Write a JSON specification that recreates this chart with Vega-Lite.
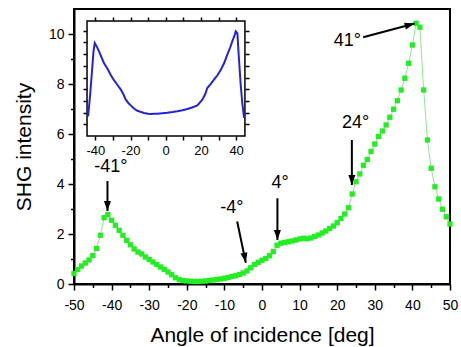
{
  "$schema": "https://vega.github.io/schema/vega-lite/v6.json",
  "width": 376,
  "height": 275,
  "autosize": {"type": "none"},
  "padding": {"left": 74, "top": 9, "right": 11, "bottom": 63},
  "background": "white",
  "config": {
    "view": {"stroke": "black", "strokeWidth": 2},
    "font": "Liberation Sans",
    "axis": {"labelFont": "Liberation Sans", "titleFont": "Liberation Sans", "labelColor": "black", "titleColor": "black", "domainColor": "black", "tickColor": "black", "grid": false, "titleFontWeight": "normal", "labelOverlap": false, "labelBound": false}
  },
  "datasets": {
    "main": [
      {"angle": -50, "shg": 0.42}, {"angle": -49, "shg": 0.58}, {"angle": -48, "shg": 0.72}, {"angle": -47, "shg": 0.84},
      {"angle": -46, "shg": 0.96}, {"angle": -45, "shg": 1.14}, {"angle": -44, "shg": 1.42}, {"angle": -43, "shg": 1.95},
      {"angle": -42, "shg": 2.65}, {"angle": -41, "shg": 2.78}, {"angle": -40, "shg": 2.55}, {"angle": -39, "shg": 2.35},
      {"angle": -38, "shg": 2.15}, {"angle": -37, "shg": 1.95}, {"angle": -36, "shg": 1.75}, {"angle": -35, "shg": 1.57},
      {"angle": -34, "shg": 1.4}, {"angle": -33, "shg": 1.28}, {"angle": -32, "shg": 1.2}, {"angle": -31, "shg": 1.08},
      {"angle": -30, "shg": 0.98}, {"angle": -29, "shg": 0.88}, {"angle": -28, "shg": 0.78}, {"angle": -27, "shg": 0.68},
      {"angle": -26, "shg": 0.58}, {"angle": -25, "shg": 0.48}, {"angle": -24, "shg": 0.37}, {"angle": -23, "shg": 0.25},
      {"angle": -22, "shg": 0.17}, {"angle": -21, "shg": 0.14}, {"angle": -20, "shg": 0.12}, {"angle": -19, "shg": 0.11},
      {"angle": -18, "shg": 0.1}, {"angle": -17, "shg": 0.1}, {"angle": -16, "shg": 0.11}, {"angle": -15, "shg": 0.12},
      {"angle": -14, "shg": 0.14}, {"angle": -13, "shg": 0.16}, {"angle": -12, "shg": 0.18}, {"angle": -11, "shg": 0.2},
      {"angle": -10, "shg": 0.23}, {"angle": -9, "shg": 0.26}, {"angle": -8, "shg": 0.3}, {"angle": -7, "shg": 0.33},
      {"angle": -6, "shg": 0.38}, {"angle": -5, "shg": 0.44}, {"angle": -4, "shg": 0.52}, {"angle": -3, "shg": 0.65},
      {"angle": -2, "shg": 0.78}, {"angle": -1, "shg": 0.87}, {"angle": 0, "shg": 0.95}, {"angle": 1, "shg": 1.02},
      {"angle": 2, "shg": 1.13}, {"angle": 3, "shg": 1.3}, {"angle": 4, "shg": 1.55}, {"angle": 5, "shg": 1.63},
      {"angle": 6, "shg": 1.66}, {"angle": 7, "shg": 1.69}, {"angle": 8, "shg": 1.72}, {"angle": 9, "shg": 1.76},
      {"angle": 10, "shg": 1.8}, {"angle": 11, "shg": 1.83}, {"angle": 12, "shg": 1.81}, {"angle": 13, "shg": 1.84},
      {"angle": 14, "shg": 1.9}, {"angle": 15, "shg": 1.96}, {"angle": 16, "shg": 2.04}, {"angle": 17, "shg": 2.12},
      {"angle": 18, "shg": 2.22}, {"angle": 19, "shg": 2.32}, {"angle": 20, "shg": 2.45}, {"angle": 21, "shg": 2.62},
      {"angle": 22, "shg": 2.8}, {"angle": 23, "shg": 3.05}, {"angle": 24, "shg": 3.6}, {"angle": 25, "shg": 4.09},
      {"angle": 26, "shg": 4.4}, {"angle": 27, "shg": 4.75}, {"angle": 28, "shg": 4.98}, {"angle": 29, "shg": 5.3},
      {"angle": 30, "shg": 5.6}, {"angle": 31, "shg": 5.9}, {"angle": 32, "shg": 6.12}, {"angle": 33, "shg": 6.36},
      {"angle": 34, "shg": 6.67}, {"angle": 35, "shg": 6.99}, {"angle": 36, "shg": 7.33}, {"angle": 37, "shg": 7.76},
      {"angle": 38, "shg": 8.23}, {"angle": 39, "shg": 8.83}, {"angle": 40, "shg": 9.56}, {"angle": 41, "shg": 10.43},
      {"angle": 42, "shg": 10.27}, {"angle": 43, "shg": 7.76}, {"angle": 44, "shg": 5.76}, {"angle": 45, "shg": 4.63},
      {"angle": 46, "shg": 3.89}, {"angle": 47, "shg": 3.4}, {"angle": 48, "shg": 2.99}, {"angle": 49, "shg": 2.69},
      {"angle": 50, "shg": 2.4}
    ],
    "inset": [
      {"ia": -44.1, "iv": 1.68}, {"ia": -43, "iv": 3.4}, {"ia": -42, "iv": 5.3}, {"ia": -41, "iv": 7.26},
      {"ia": -40.3, "iv": 7.95}, {"ia": -39, "iv": 7.6}, {"ia": -37.9, "iv": 7.24}, {"ia": -35.1, "iv": 6.24},
      {"ia": -33, "iv": 5.73}, {"ia": -31.3, "iv": 5.24}, {"ia": -29.5, "iv": 4.79}, {"ia": -27.5, "iv": 4.38},
      {"ia": -25.5, "iv": 3.97}, {"ia": -24.1, "iv": 3.59}, {"ia": -22.7, "iv": 3.1}, {"ia": -21, "iv": 2.78},
      {"ia": -19.9, "iv": 2.62}, {"ia": -18, "iv": 2.35}, {"ia": -16.1, "iv": 2.16}, {"ia": -14, "iv": 2.05},
      {"ia": -12.3, "iv": 1.97}, {"ia": -10, "iv": 1.91}, {"ia": -8.5, "iv": 1.88}, {"ia": -6.5, "iv": 1.9},
      {"ia": -4.8, "iv": 1.91}, {"ia": -2, "iv": 1.95}, {"ia": 0.9, "iv": 1.99}, {"ia": 4, "iv": 2.05},
      {"ia": 6.6, "iv": 2.11}, {"ia": 9.5, "iv": 2.2}, {"ia": 12.3, "iv": 2.31}, {"ia": 15, "iv": 2.44},
      {"ia": 18, "iv": 2.62}, {"ia": 20.8, "iv": 3.1}, {"ia": 22.5, "iv": 3.59}, {"ia": 23.6, "iv": 4.1},
      {"ia": 25.5, "iv": 4.44}, {"ia": 27.4, "iv": 4.81}, {"ia": 29.5, "iv": 5.21}, {"ia": 31.3, "iv": 5.67},
      {"ia": 33.2, "iv": 6.24}, {"ia": 35, "iv": 6.95}, {"ia": 36.5, "iv": 7.52}, {"ia": 37.8, "iv": 8.09},
      {"ia": 39, "iv": 8.55}, {"ia": 39.8, "iv": 8.95}, {"ia": 40.7, "iv": 8.8}, {"ia": 41.5, "iv": 6.84},
      {"ia": 42.6, "iv": 4.38}, {"ia": 43.5, "iv": 2.82}, {"ia": 44.5, "iv": 1.54}
    ],
    "frame": [{"fx": -44.7, "fx2": 45.0, "fy": 0, "fy2": 9.83}],
    "notes": [
      {"label": "-41°", "lx": -40.2, "ly": 4.68, "tx": -41.1, "ty": 4.12, "hx": -41.1, "hy": 2.92},
      {"label": "-4°", "lx": -8.0, "ly": 3.05, "tx": -6.6, "ty": 2.5, "hx": -4.3, "hy": 0.85},
      {"label": "4°", "lx": 4.8, "ly": 4.06, "tx": 4.1, "ty": 3.43, "hx": 4.1, "hy": 1.76},
      {"label": "24°", "lx": 24.9, "ly": 6.46, "tx": 23.9, "ty": 5.76, "hx": 23.9, "hy": 3.96},
      {"label": "41°", "lx": 22.7, "ly": 9.72, "tx": 26.9, "ty": 9.87, "hx": 40.6, "hy": 10.42}
    ]
  },
  "resolve": {"scale": {"x": "independent", "y": "independent"}},
  "layer": [
    {
      "data": {"name": "main"},
      "mark": {"type": "line", "color": "#8fe88f", "strokeWidth": 1},
      "encoding": {
        "x": {"field": "angle", "type": "quantitative", "scale": {"domain": [-50, 50], "nice": false, "zero": false},
          "axis": {"orient": "bottom", "title": "Angle of incidence [deg]", "titleFontSize": 21, "titlePadding": 12, "labelFontSize": 14, "labelPadding": 8,
            "values": [-50, -40, -30, -20, -10, 0, 10, 20, 30, 40, 50],
            "labelExpr": "'' + datum.value", "labelFlush": false, "labelOverlap": false, "labelSeparation": 0,
            "tickSize": 6, "tickWidth": 1.5, "domainWidth": 2}},
        "y": {"field": "shg", "type": "quantitative", "scale": {"domain": [0, 11], "nice": false, "zero": false},
          "axis": {"orient": "left", "title": "SHG intensity", "titleFontSize": 21, "titlePadding": 14, "labelFontSize": 14, "labelPadding": 4,
            "values": [0, 2, 4, 6, 8, 10], "labelExpr": "'' + datum.value", "labelOverlap": false,
            "tickSize": 6, "tickWidth": 1.5, "domainWidth": 2}}
      }
    },
    {
      "data": {"name": "main"},
      "mark": {"type": "point", "shape": "square", "filled": true, "color": "#22ee22", "size": 28, "opacity": 1},
      "encoding": {
        "x": {"field": "angle", "type": "quantitative", "scale": {"domain": [-50, 50], "nice": false, "zero": false},
          "axis": {"orient": "bottom", "title": null, "domain": false, "labels": false,
            "values": [-45, -35, -25, -15, -5, 5, 15, 25, 35, 45], "tickSize": 3.5, "tickWidth": 1.5}},
        "y": {"field": "shg", "type": "quantitative", "scale": {"domain": [0, 11], "nice": false, "zero": false},
          "axis": {"orient": "left", "title": null, "domain": false, "labels": false,
            "values": [1, 3, 5, 7, 9], "tickSize": 3.5, "tickWidth": 1.5}}
      }
    },
    {
      "data": {"name": "notes"},
      "mark": {"type": "rule", "color": "black", "strokeWidth": 2},
      "encoding": {
        "x": {"field": "tx", "type": "quantitative", "scale": {"domain": [-50, 50], "nice": false, "zero": false}, "axis": null},
        "y": {"field": "ty", "type": "quantitative", "scale": {"domain": [0, 11], "nice": false, "zero": false}, "axis": null},
        "x2": {"field": "hx"},
        "y2": {"field": "hy"}
      }
    },
    {
      "data": {"name": "notes"},
      "transform": [{"filter": "datum.label === '-41°' || datum.label === '4°' || datum.label === '24°'"}],
      "mark": {"type": "point", "shape": "M0,0L-0.35,-1L0.35,-1Z", "filled": true, "color": "black", "size": 400, "opacity": 1, "angle": 0},
      "encoding": {
        "x": {"field": "hx", "type": "quantitative", "scale": {"domain": [-50, 50], "nice": false, "zero": false}, "axis": null},
        "y": {"field": "hy", "type": "quantitative", "scale": {"domain": [0, 11], "nice": false, "zero": false}, "axis": null}
      }
    },
    {
      "data": {"name": "notes"},
      "transform": [{"filter": "datum.label === '-4°'"}],
      "mark": {"type": "point", "shape": "M0,0L-0.35,-1L0.35,-1Z", "filled": true, "color": "black", "size": 400, "opacity": 1, "angle": 349},
      "encoding": {
        "x": {"field": "hx", "type": "quantitative", "scale": {"domain": [-50, 50], "nice": false, "zero": false}, "axis": null},
        "y": {"field": "hy", "type": "quantitative", "scale": {"domain": [0, 11], "nice": false, "zero": false}, "axis": null}
      }
    },
    {
      "data": {"name": "notes"},
      "transform": [{"filter": "datum.label === '41°'"}],
      "mark": {"type": "point", "shape": "M0,0L-0.35,-1L0.35,-1Z", "filled": true, "color": "black", "size": 400, "opacity": 1, "angle": 255},
      "encoding": {
        "x": {"field": "hx", "type": "quantitative", "scale": {"domain": [-50, 50], "nice": false, "zero": false}, "axis": null},
        "y": {"field": "hy", "type": "quantitative", "scale": {"domain": [0, 11], "nice": false, "zero": false}, "axis": null}
      }
    },
    {
      "data": {"name": "notes"},
      "mark": {"type": "text", "fontSize": 18, "font": "Liberation Sans", "color": "black", "align": "center", "baseline": "middle"},
      "encoding": {
        "x": {"field": "lx", "type": "quantitative", "scale": {"domain": [-50, 50], "nice": false, "zero": false}, "axis": null},
        "y": {"field": "ly", "type": "quantitative", "scale": {"domain": [0, 11], "nice": false, "zero": false}, "axis": null},
        "text": {"field": "label"}
      }
    },
    {
      "data": {"name": "frame"},
      "mark": {"type": "rect", "fill": null, "stroke": "black", "strokeWidth": 1.5},
      "encoding": {
        "x": {"field": "fx", "type": "quantitative", "scale": {"domain": [-52.1, 161.5], "nice": false, "zero": false},
          "axis": {"orient": "bottom", "offset": -148, "title": null, "domain": false, "ticks": true,
            "values": [-40, -30, -20, -10, 0, 10, 20, 30, 40],
            "labelExpr": "datum.value % 20 === 0 ? '' + datum.value : ''", "labelFontSize": 13, "labelOverlap": false, "labelFlush": false,
            "tickSize": 4, "labelPadding": 4, "tickWidth": 1.5, "tickColor": "black", "tickOpacity": 1,
            "encode": {"ticks": {"update": {"y2": {"value": -4}}}}}},
        "x2": {"field": "fx2"},
        "y": {"field": "fy", "type": "quantitative", "scale": {"domain": [-12.65, 10.855], "nice": false, "zero": false},
          "axis": {"orient": "left", "offset": -13, "title": null, "domain": false, "labels": false, "ticks": true,
            "values": [1, 2, 3, 4, 5, 6, 7, 8, 9], "tickSize": 4, "tickWidth": 1.5, "tickColor": "black", "tickOpacity": 1,
            "encode": {"ticks": {"update": {"x2": {"value": 4}}}}}},
        "y2": {"field": "fy2"}
      }
    },
    {
      "data": {"name": "inset"},
      "mark": {"type": "line", "color": "#2323dd", "strokeWidth": 2},
      "encoding": {
        "x": {"field": "ia", "type": "quantitative", "scale": {"domain": [-52.1, 161.5], "nice": false, "zero": false},
          "axis": {"orient": "top", "offset": -12, "title": null, "domain": false, "labels": false, "ticks": true,
            "values": [-40, -30, -20, -10, 0, 10, 20, 30, 40], "tickSize": 4, "tickWidth": 1.5, "tickColor": "black", "tickOpacity": 1,
            "encode": {"ticks": {"update": {"y2": {"value": 4}}}}}},
        "y": {"field": "iv", "type": "quantitative", "scale": {"domain": [-12.65, 10.855], "nice": false, "zero": false},
          "axis": {"orient": "right", "offset": -205, "title": null, "domain": false, "labels": false, "ticks": true,
            "values": [1, 2, 3, 4, 5, 6, 7, 8, 9], "tickSize": 4, "tickWidth": 1.5, "tickColor": "black", "tickOpacity": 1,
            "encode": {"ticks": {"update": {"x2": {"value": -4}}}}}}
      }
    }
  ]
}
